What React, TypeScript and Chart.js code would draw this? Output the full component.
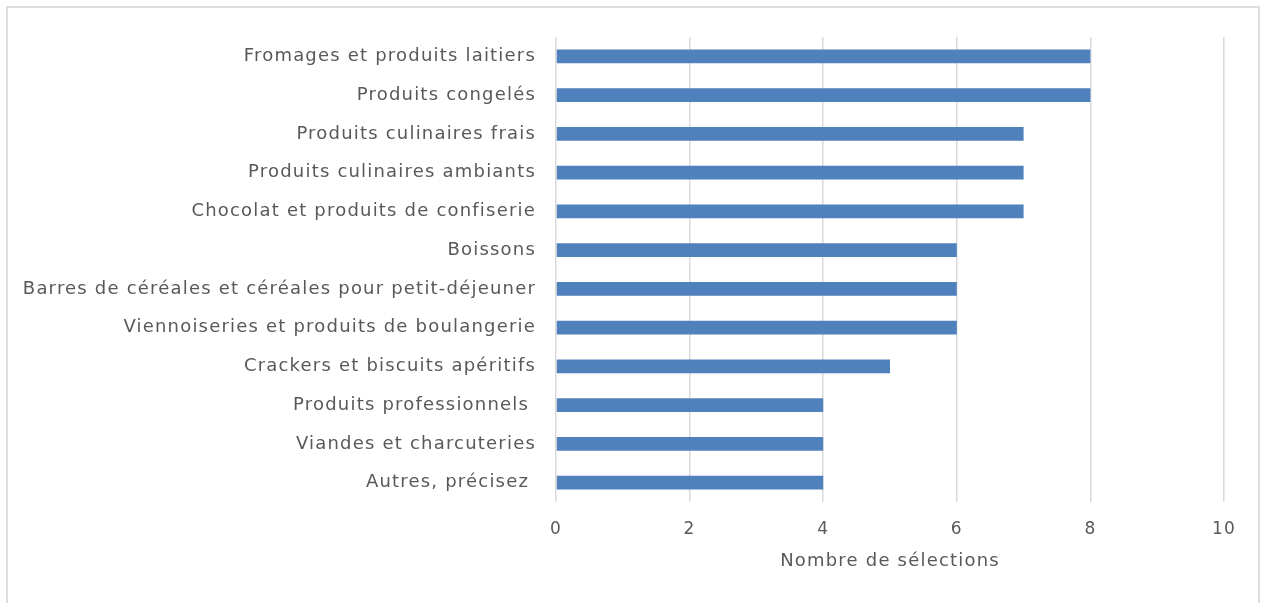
import React, { useEffect, useRef } from "react";
import { Chart, registerables } from "chart.js";

Chart.register(...registerables);

const categories = [
  "Fromages et produits laitiers",
  "Produits congelés",
  "Produits culinaires frais",
  "Produits culinaires ambiants",
  "Chocolat et produits de confiserie",
  "Boissons",
  "Barres de céréales et céréales pour petit-déjeuner",
  "Viennoiseries et produits de boulangerie",
  "Crackers et biscuits apéritifs",
  "Produits professionnels ",
  "Viandes et charcuteries",
  "Autres, précisez ",
];
const selections = [8, 8, 7, 7, 7, 6, 6, 6, 5, 4, 4, 4];
const xTicks = [0, 2, 4, 6, 8, 10];
const xTitle = "Nombre de sélections";

const FONT = "'DejaVu Sans', sans-serif";
const TEXT = "#595959";
const SPACING = "1.2px";

const spacingPlugin = {
  id: "letterSpacing",
  beforeInit: (chart: any) => {
    chart.ctx.letterSpacing = SPACING;
  },
  beforeUpdate: (chart: any) => {
    chart.ctx.letterSpacing = SPACING;
  },
  beforeDraw: (chart: any) => {
    chart.ctx.letterSpacing = SPACING;
  },
};

export default function App() {
  const ref = useRef<HTMLCanvasElement | null>(null);
  useEffect(() => {
    if (!ref.current) return;
    const chart = new Chart(ref.current, {
      type: "bar",
      data: {
        labels: categories,
        datasets: [
          {
            data: selections,
            backgroundColor: "#4f81bd",
            barPercentage: 0.72,
            categoryPercentage: 0.5,
          },
        ],
      },
      plugins: [spacingPlugin],
      options: {
        indexAxis: "y",
        animation: false,
        responsive: false,
        maintainAspectRatio: false,
        layout: { padding: { top: 37, right: 38, bottom: 0, left: 0 } },
        plugins: { legend: { display: false }, tooltip: { enabled: false } },
        scales: {
          x: {
            min: 0,
            max: 10,
            afterBuildTicks: (scale: any) => {
              scale.ticks = xTicks.map((v) => ({ value: v }));
            },
            afterFit: (scale: any) => {
              scale.height = 101;
            },
            grid: { color: "#d9d9d9", lineWidth: 1.5, drawTicks: false },
            border: { display: false },
            ticks: { color: TEXT, font: { family: FONT, size: 17 }, padding: 17 },
            title: {
              display: true,
              text: xTitle,
              color: TEXT,
              font: { family: FONT, size: 18 },
              padding: { top: 0, bottom: 31 },
            },
          },
          y: {
            afterFit: (scale: any) => {
              scale.width = 556;
            },
            grid: { display: false, drawTicks: false },
            border: { display: false },
            ticks: { color: TEXT, font: { family: FONT, size: 18 }, padding: 20, autoSkip: false },
          },
        },
      },
    });
    return () => chart.destroy();
  }, []);
  return (
    <div style={{ position: "absolute", left: 0, top: 0, width: 1262, height: 603, background: "#fff" }}>
      <div
        style={{
          position: "absolute",
          left: 6,
          top: 6,
          width: 1254,
          height: 610,
          border: "2px solid #dedede",
          boxSizing: "border-box",
        }}
      />
      <canvas ref={ref} width={1262} height={603} style={{ position: "absolute", left: 0, top: 0 }} />
    </div>
  );
}
